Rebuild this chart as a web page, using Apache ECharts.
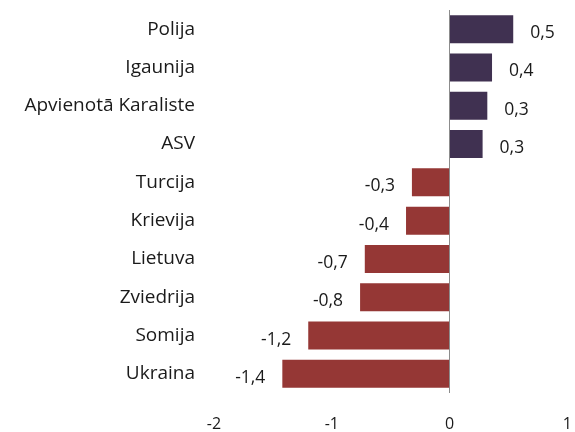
<!DOCTYPE html>
<html>
<head>
<meta charset="utf-8">
<script src="https://cdn.jsdelivr.net/npm/echarts@6/dist/echarts.min.js"></script>
<style>
    html, body { margin: 0; padding: 0; background: #fff; }
    #chart { width: 575px; height: 432px; }
</style>
</head>
<body>
<div id="chart"></div>
<script>
const categories = ['Polija', 'Igaunija', 'Apvienotā Karaliste', 'ASV', 'Turcija',
    'Krievija', 'Lietuva', 'Zviedrija', 'Somija', 'Ukraina'];
const values = [0.54, 0.36, 0.32, 0.28, -0.32, -0.37, -0.72, -0.76, -1.2, -1.42];
const xTicks = [-2, -1, 0, 1];

const positiveColor = '#403151';
const negativeColor = '#953735';
const fontFamily = '"Open Sans", sans-serif';

const barData = values.map(function(v) {
    return {
        value: v,
        itemStyle: {color: v < 0 ? negativeColor : positiveColor},
        label: {position: v < 0 ? 'left' : 'right'},
    };
});

const myChart = echarts.init(document.getElementById('chart'), null, {renderer: 'canvas'});
myChart.setOption({
    animation: false,
    grid: {left: 214, right: 5, top: 10, bottom: 37},
    xAxis: {
        type: 'value',
        min: xTicks[0],
        max: xTicks[xTicks.length - 1],
        interval: 1,
        splitLine: {show: false},
        axisLine: {show: false},
        axisTick: {show: false},
        axisLabel: {
            margin: 23,
            fontSize: 16,
            color: '#1a1a1a',
            fontFamily: fontFamily,
        },
    },
    yAxis: {
        type: 'category',
        data: categories,
        inverse: true,
        axisLine: {show: false, onZero: false},
        axisTick: {show: false},
        axisLabel: {
            margin: 19,
            fontSize: 19,
            color: '#1a1a1a',
            fontFamily: fontFamily,
        },
    },
    series: [{
        type: 'bar',
        data: barData,
        barCategoryGap: '27%',
        label: {
            show: true,
            distance: 17,
            offset: [0, 4],
            fontSize: 17.5,
            color: '#1a1a1a',
            fontFamily: fontFamily,
            formatter: function(p) {
                return p.value.toFixed(1).replace('.', ',');
            },
        },
        markLine: {
            silent: true,
            symbol: 'none',
            label: {show: false},
            lineStyle: {color: '#8c8c8c', type: 'solid', width: 1},
            data: [{xAxis: 0}],
        },
    }],
});
</script>
</body>
</html>
